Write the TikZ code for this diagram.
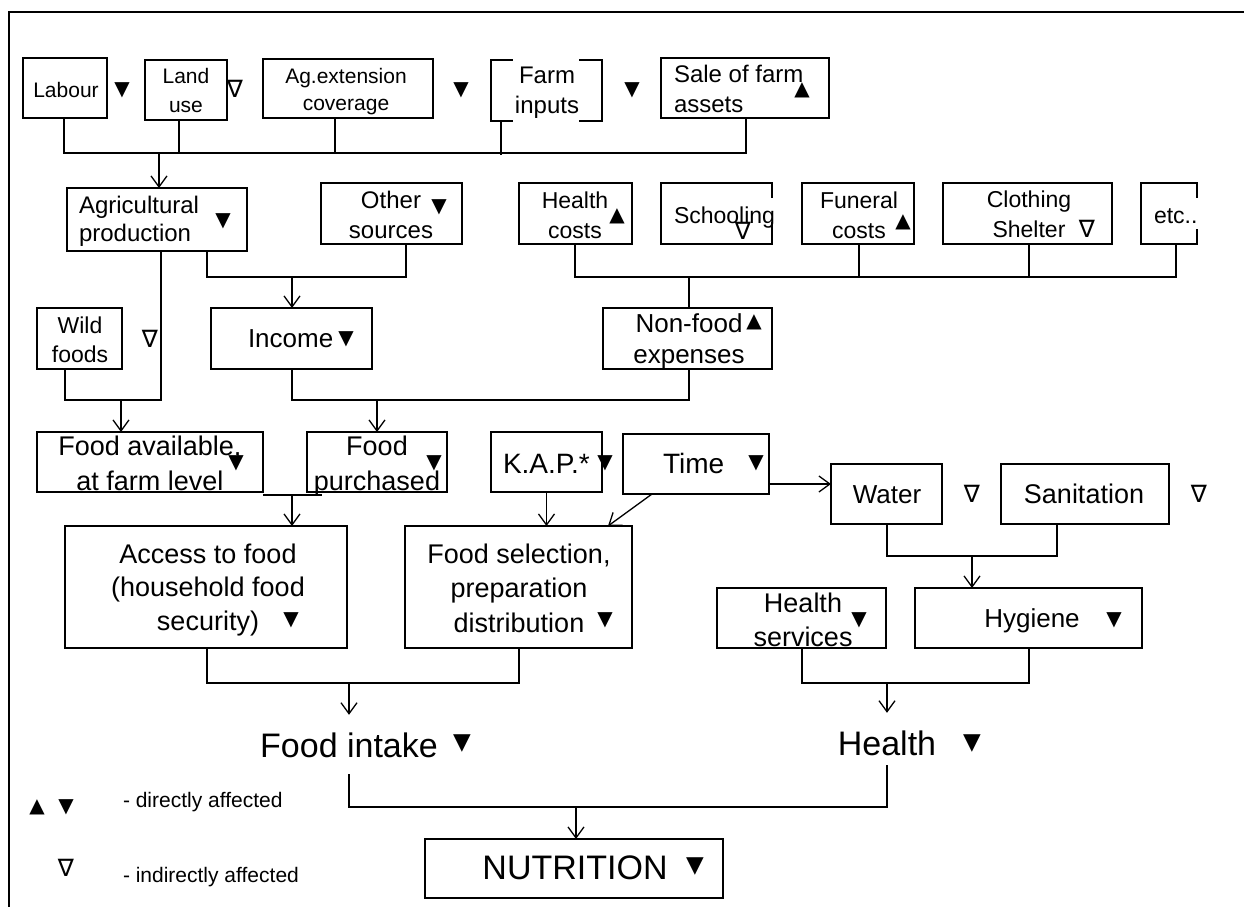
\documentclass[tikz,border=0pt]{standalone}
\usepackage{fontspec}
\setmainfont{Liberation Sans}
\newfontfamily\symf{DejaVu Sans}
\usetikzlibrary{arrows.meta,fit}
\newcommand\fsz[2]{\fontsize{#1}{#2}\selectfont}
\newcommand\twoc[2]{\begin{tabular}[t]{@{}c@{}}#1\\#2\end{tabular}}
\newcommand\twol[2]{\begin{tabular}[t]{@{}l@{}}#1\\#2\end{tabular}}
\newcommand\threec[3]{\begin{tabular}[t]{@{}c@{}}#1\\#2\\#3\end{tabular}}
\newcommand\bx[5]{\node[bxs, fit={(#2,#3) (#4,#5)}] (#1) {};}
\begin{document}
\begin{tikzpicture}[x=1pt,y=-1pt,
  bxs/.style={draw, line width=1.3pt, rectangle, inner sep=0pt, outer sep=0pt},
  txt/.style={inner sep=0pt, outer sep=0pt, anchor=base},
  con/.style={line width=1.3pt},
  arr/.style={line width=1.3pt, -{Straight Barb[length=11pt,width=16pt]}},
  tri/.style={inner sep=0pt, font=\symf\fsz{20}{24}},
  btri/.style={inner sep=0pt, font=\symf\fsz{23}{26}},
  otri/.style={inner sep=0pt, font=\symf\fsz{24}{26}},
  big/.style={inner xsep=0pt, inner ysep=17pt, anchor=base, text height=25pt, text depth=0pt, font=\fsz{34}{40}}
]
\useasboundingbox (0,0) rectangle (1244,906);
% frame
\draw[con] (1250,12) -- (9,12) -- (9,912);

% boxes
\bx{labour}{23}{58}{107}{118}
\bx{land}{145}{60}{227}{120}
\bx{agext}{263}{59}{433}{118}
\bx{farm}{491}{60}{602}{121}
\bx{sale}{661}{58}{829}{118}
\bx{agri}{67}{188}{247}{251}
\bx{other}{321}{183}{462}{244}
\bx{hcost}{519}{183}{632}{244}
\bx{school}{661}{183}{772}{244}
\bx{funeral}{802}{183}{914}{244}
\bx{cloth}{943}{183}{1112}{244}
\bx{etc}{1141}{183}{1197}{244}
\bx{wild}{37}{308}{122}{369}
\bx{income}{211}{308}{372}{369}
\bx{nonfood}{603}{308}{772}{369}
\bx{favail}{37}{432}{263}{492}
\bx{fpurch}{307}{432}{447}{492}
\bx{kap}{491}{432}{602}{492}
\bx{time}{623}{434}{769}{494}
\bx{water}{831}{464}{942}{524}
\bx{sanit}{1001}{464}{1169}{524}
\bx{access}{65}{526}{347}{648}
\bx{select}{405}{526}{632}{648}
\bx{hserv}{717}{588}{886}{648}
\bx{hyg}{915}{588}{1142}{648}
\bx{nutr}{425}{839}{723}{898}

% text backgrounds that cut the borders
\fill[white] (513,57) rectangle (579,124);
\fill[white] (769,198) rectangle (776,222);
\fill[white] (1194,198) rectangle (1201,229);

% texts
\node[txt,font=\fsz{21}{29}] (t-labour) at (66,97) {Labour};
\node[txt,font=\fsz{21}{29}] (t-land) at (186,83) {\twoc{Land}{use}};
\node[txt,font=\fsz{21}{27}] (t-agext) at (346,83) {\twoc{Ag.extension}{coverage}};
\node[txt,font=\fsz{24}{30}] (t-farm) at (547,83) {\twoc{Farm}{inputs}};
\node[txt,anchor=base west,font=\fsz{24}{30}] (t-sale) at (674,82) {\twol{Sale of farm}{assets}};
\node[txt,anchor=base west,font=\fsz{24}{28}] (t-agri) at (79,213) {\twol{Agricultural}{production}};
\node[txt,font=\fsz{24}{30}] (t-other) at (391,208) {\twoc{Other}{sources}};
\node[txt,font=\fsz{23}{30}] (t-hcost) at (575,208) {\twoc{Health}{costs}};
\node[txt,anchor=base west,font=\fsz{23}{28}] (t-school) at (674,223) {Schooling};
\node[txt,font=\fsz{23}{30}] (t-funeral) at (859,208) {\twoc{Funeral}{costs}};
\node[txt,font=\fsz{23}{30}] (t-cloth) at (1029,207) {\twoc{Clothing}{Shelter}};
\node[txt,anchor=base west,font=\fsz{23}{28}] (t-etc) at (1154,223) {etc..};
\node[txt,font=\fsz{23}{29}] (t-wild) at (80,333) {\twoc{Wild}{foods}};
\node[txt,anchor=base west,font=\fsz{26}{31}] (t-income) at (248,347) {Income};
\node[txt,font=\fsz{26}{31}] (t-nonfood) at (689,332) {\twoc{Non-food}{expenses}};
\node[txt,font=\fsz{27}{35}] (t-favail) at (150,455) {\twoc{Food available,}{at farm level}};
\node[txt,font=\fsz{27}{35}] (t-fpurch) at (377,455) {\twoc{Food}{purchased}};
\node[txt,anchor=base west,font=\fsz{28}{32}] (t-kap) at (503,473) {K.A.P.*};
\node[txt,anchor=base west,font=\fsz{28}{32}] (t-time) at (663,473) {Time};
\node[txt,font=\fsz{26}{31}] (t-water) at (887,503) {Water};
\node[txt,font=\fsz{27}{31}] (t-sanit) at (1084,503) {Sanitation};
\node[txt,font=\fsz{27}{33.5}] (t-access) at (208,563) {\threec{Access to food}{(household food}{security)}};
\node[txt,font=\fsz{27}{34.5}] (t-select) at (519,563) {\threec{Food selection,}{preparation}{distribution}};
\node[txt,font=\fsz{27}{34}] (t-hserv) at (803,612) {\twoc{Health}{services}};
\node[txt,font=\fsz{26}{31}] (t-hyg) at (1032,627) {Hygiene};
\node[big] (intake) at (349,757) {Food intake};
\node[big] (health) at (887,755) {Health};
\node[txt,font=\fsz{34}{40}] (t-nutr) at (575,879) {NUTRITION};
\node[txt,anchor=base west,font=\fsz{21}{26}] (t-leg1) at (123,807) {- directly affected};
\node[txt,anchor=base west,font=\fsz{21}{26}] (t-leg2) at (123,882) {- indirectly affected};

% filled down triangles
\node[tri] (v-labour) at (122,90) {▼};
\node[tri] (v-agext) at (461,90) {▼};
\node[tri] (v-farm) at (632,90) {▼};
\node[tri] (v-agri) at (223,221) {▼};
\node[tri] (v-other) at (439,207) {▼};
\node[tri] (v-income) at (346,339) {▼};
\node[tri] (v-favail) at (236,463) {▼};
\node[tri] (v-fpurch) at (434,463) {▼};
\node[tri] (v-kap) at (605,463) {▼};
\node[tri] (v-time) at (756,463) {▼};
\node[tri] (v-access) at (291,620) {▼};
\node[tri] (v-select) at (605,620) {▼};
\node[tri] (v-hserv) at (859,620) {▼};
\node[tri] (v-hyg) at (1114,620) {▼};
\node[tri] (v-leg) at (66,807) {▼};
\node[btri] (v-intake) at (462,744) {▼};
\node[btri] (v-health) at (972,744) {▼};
\node[btri] (v-nutr) at (695,867) {▼};
% filled up triangles
\node[tri] (u-sale) at (802,90) {▲};
\node[tri] (u-hcost) at (617,216) {▲};
\node[tri] (u-funeral) at (903,222) {▲};
\node[tri] (u-nonfood) at (754,322) {▲};
\node[tri] (u-leg) at (37,807) {▲};
% open triangles
\node[otri] (o-land) at (235,89) {∇};
\node[otri] (o-wild) at (150,339) {∇};
\node[otri] (o-school) at (743,231) {∇};
\node[otri] (o-cloth) at (1087,229) {∇};
\node[otri] (o-water) at (972,494) {∇};
\node[otri] (o-sanit) at (1199,494) {∇};
\node[otri] (o-leg) at (66,868) {∇};

% connectors
\coordinate (a0) at (64,153); \coordinate (a1) at (159,153); \coordinate (a2) at (179,153);
\coordinate (a3) at (335,153); \coordinate (a4) at (501,155); \coordinate (a5) at (746,153);
\draw[con] (labour.south -| a0) -- (a0) -- (a5) -- (sale.south -| a5);
\draw[con] (land.south -| a2) -- (a2);
\draw[con] (agext.south -| a3) -- (a3);
\draw[con] (farm.south -| a4) -- (a4);
\draw[arr] (a1) -- (agri.north -| a1);

\coordinate (b0) at (207,277); \coordinate (b1) at (292,277); \coordinate (b2) at (406,277);
\draw[con] (agri.south -| b0) -- (b0) -- (b2) -- (other.south -| b2);
\draw[arr] (b1) -- (income.north -| b1);

\coordinate (c0) at (65,400); \coordinate (c1) at (121,400); \coordinate (c2) at (161,400);
\draw[con] (agri.south -| c2) -- (c2) -- (c0) -- (wild.south -| c0);
\draw[arr] (c1) -- (favail.north -| c1);

\coordinate (d0) at (575,277); \coordinate (d1) at (689,277); \coordinate (d2) at (859,277);
\coordinate (d3) at (1029,277); \coordinate (d4) at (1176,277);
\draw[con] (hcost.south -| d0) -- (d0) -- (d4) -- (etc.south -| d4);
\draw[con] (funeral.south -| d2) -- (d2);
\draw[con] (cloth.south -| d3) -- (d3);
\draw[con] (d1) -- (nonfood.north -| d1);

\coordinate (e0) at (292,400); \coordinate (e1) at (377,400); \coordinate (e2) at (689,400);
\draw[con] (income.south -| e0) -- (e0) -- (e2) -- (nonfood.south -| e2);
\draw[arr] (e1) -- (fpurch.north -| e1);

\coordinate (f1) at (292,495); \coordinate (f2) at (322,495);
\draw[con] (favail.south east |- f1) -- (f2);
\draw[arr] (f1) -- (access.north -| f1);

\draw[arr] (kap.south) -- (kap.south |- select.north);
\coordinate (h0) at (652,0); \coordinate (h1) at (608,0);
\draw[arr] (time.south -| h0) -- (select.north -| h1);
\coordinate (w0) at (800,484);
\draw[arr] (time.east |- w0) -- (water.west |- w0);

\coordinate (k0) at (887,556); \coordinate (k1) at (972,556); \coordinate (k2) at (1057,556);
\draw[con] (water.south -| k0) -- (k0) -- (k2) -- (sanit.south -| k2);
\draw[arr] (k1) -- (hyg.north -| k1);

\coordinate (m0) at (207,683); \coordinate (m1) at (349,683); \coordinate (m2) at (519,683);
\draw[con] (access.south -| m0) -- (m0) -- (m2) -- (select.south -| m2);
\draw[arr] (m1) -- (intake.north);

\coordinate (p0) at (802,683); \coordinate (p1) at (887,683); \coordinate (p2) at (1029,683);
\draw[con] (hserv.south -| p0) -- (p0) -- (p2) -- (hyg.south -| p2);
\draw[arr] (p1) -- (health.north);

\coordinate (n0) at (349,807); \coordinate (n1) at (576,807); \coordinate (n2) at (887,807);
\coordinate (n3) at (887,765);
\draw[con] (intake.south) -- (n0) -- (n2) -- (n3);
\draw[arr] (n1) -- (nutr.north -| n1);
\end{tikzpicture}
\end{document}
